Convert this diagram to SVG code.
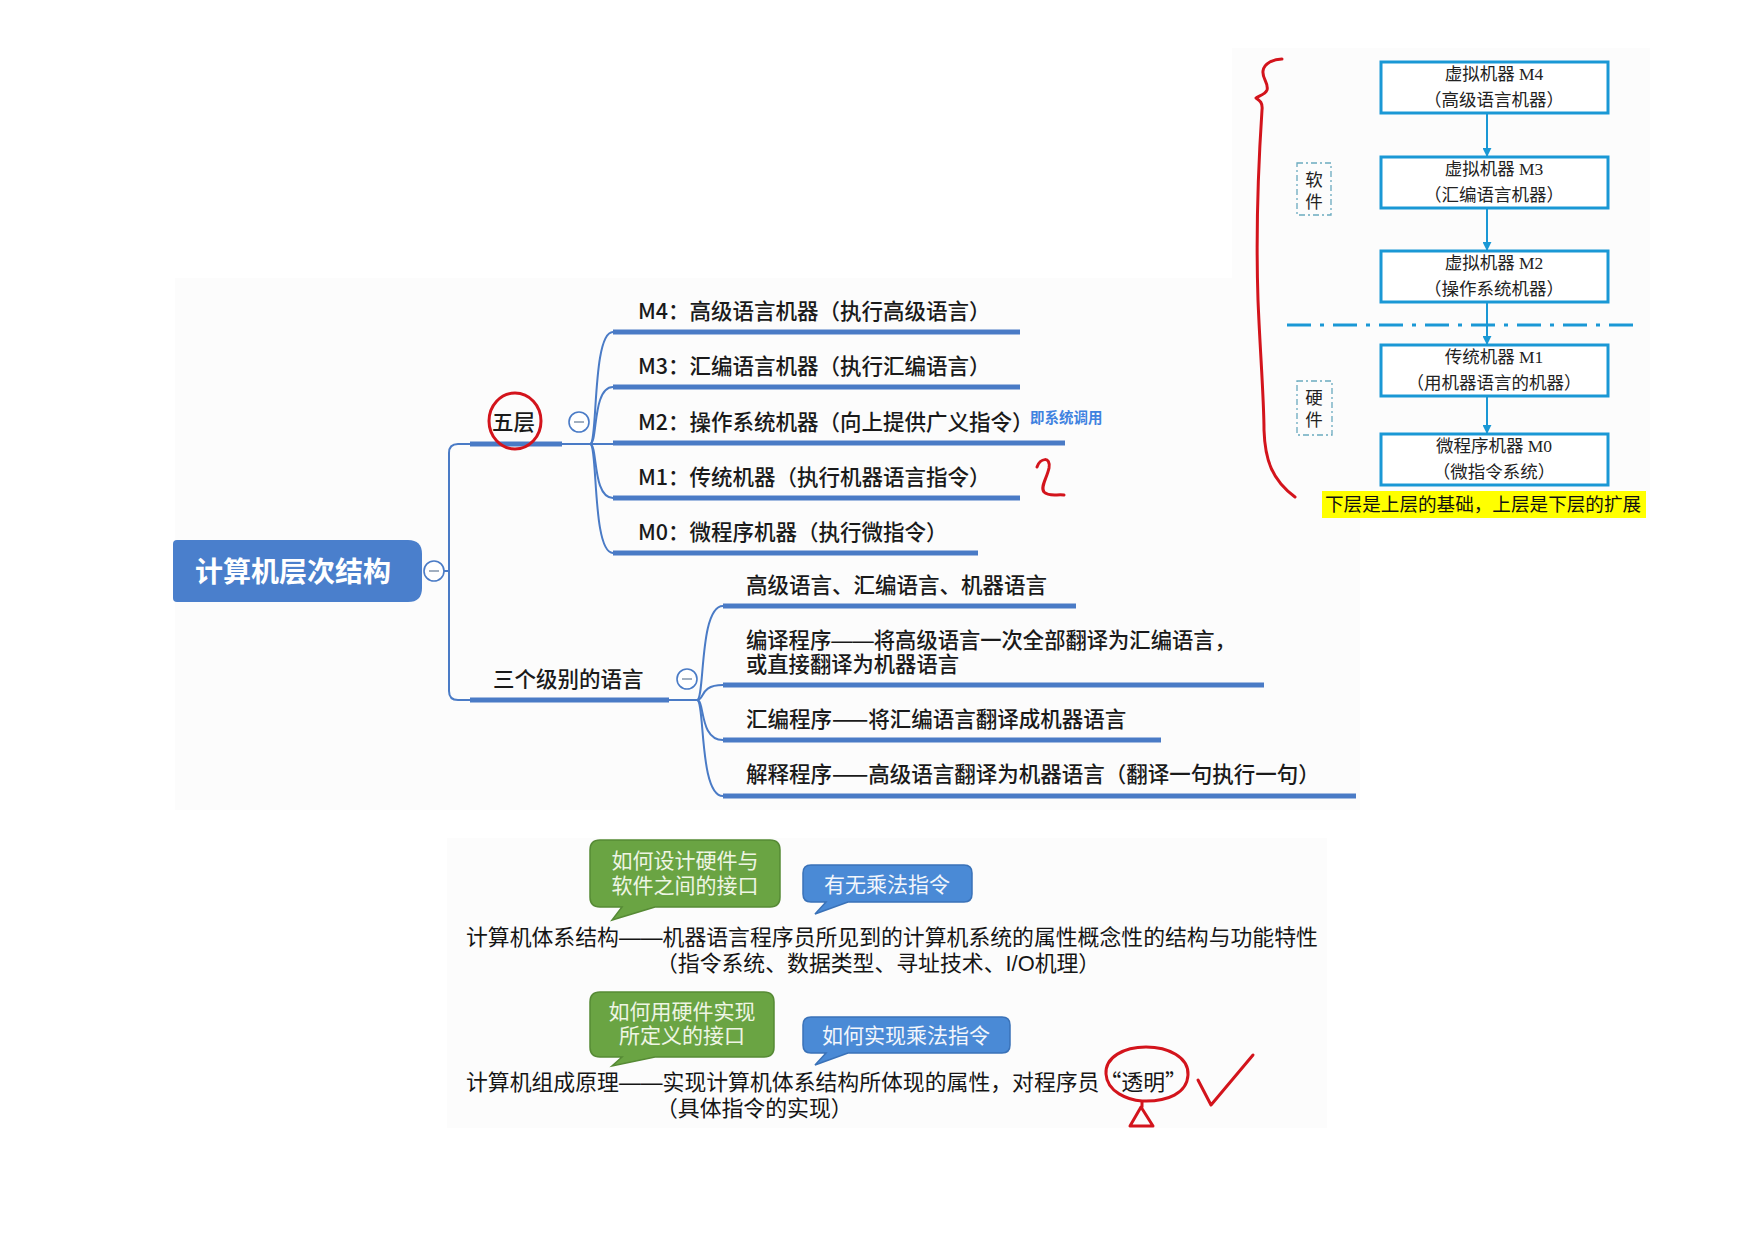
<svg xmlns="http://www.w3.org/2000/svg" width="1754" height="1241" viewBox="0 0 1754 1241">
<style>
.mm{font-family:"Noto Sans CJK SC","Noto Sans",sans-serif;font-weight:500;fill:#1a1a1a;font-size:21.5px}
.mm2{font-family:"Liberation Sans","Noto Sans CJK SC",sans-serif;font-weight:500;fill:#1a1a1a;font-size:21.3px}
.thick{stroke:#4a7bc6;stroke-width:5;fill:none}
.thin{stroke:#4a7bc6;stroke-width:2;fill:none}
.fold{fill:#fff;stroke:#4a7bc6;stroke-width:1.6}
.minus{stroke:#8a9bb0;stroke-width:1.6}
.box{fill:#fff;stroke:#1a98d5;stroke-width:3}
.bt{font-family:"Liberation Serif","Noto Sans CJK SC",serif;font-size:17.5px;fill:#222;text-anchor:middle}
.side{fill:none;stroke:#6aaabf;stroke-width:1.3;stroke-dasharray:6 3 2 3}
.red{fill:none;stroke:#d3141c;stroke-width:3;stroke-linecap:round;stroke-linejoin:round}
.para{font-family:"Liberation Sans","Noto Sans CJK SC",sans-serif;font-size:21.85px;fill:#151515}
.cjkq{font-family:"Noto Sans CJK SC",sans-serif}
.bub{font-family:"Liberation Sans","Noto Sans CJK SC",sans-serif;font-size:21px;text-anchor:middle}
.gb{fill:#6aa443;stroke:#568a35;stroke-width:1.5}
.bb{fill:#4a8ad6;stroke:#3a72b8;stroke-width:1.5}
</style>
<defs>
<marker id="ah" viewBox="0 0 10 10" refX="9" refY="5" markerWidth="9" markerHeight="9" markerUnits="userSpaceOnUse" orient="auto">
<path d="M0,0 L10,5 L0,10 Z" fill="#1a98d5"/>
</marker>
</defs>
<rect width="1754" height="1241" fill="#ffffff"/>
<rect x="175" y="278" width="1185" height="532" fill="#fcfcfc"/>
<rect x="1232" y="48" width="418" height="472" fill="#fcfcfc"/>
<rect x="447" y="838" width="880" height="290" fill="#fcfcfc"/>

<g id="connectors">
<path class="thin" d="M444,571 H449"/>
<path class="thin" d="M470,444 H458 Q449,444 449,453 V691 Q449,700 458,700 H470"/>
<path class="thin" d="M562,444 H590"/>
<path class="thin" d="M590,444 C598,444 592,332 613,332"/>
<path class="thin" d="M590,444 C598,444 592,387 613,387"/>
<path class="thin" d="M590,444 H613"/>
<path class="thin" d="M590,444 C598,444 592,498 613,498"/>
<path class="thin" d="M590,444 C598,444 592,553 613,553"/>
<path class="thin" d="M669,700 H697"/>
<path class="thin" d="M697,700 C705,700 699,606 723,606"/>
<path class="thin" d="M697,700 C705,700 699,685 723,685"/>
<path class="thin" d="M697,700 C705,700 699,740 723,740"/>
<path class="thin" d="M697,700 C705,700 699,796 723,796"/>
<line x1="1487" y1="114" x2="1487" y2="156" stroke="#1a98d5" stroke-width="2" marker-end="url(#ah)"/>
<line x1="1487" y1="209" x2="1487" y2="250" stroke="#1a98d5" stroke-width="2" marker-end="url(#ah)"/>
<line x1="1487" y1="303" x2="1487" y2="344" stroke="#1a98d5" stroke-width="2" marker-end="url(#ah)"/>
<line x1="1487" y1="397" x2="1487" y2="433" stroke="#1a98d5" stroke-width="2" marker-end="url(#ah)"/>
</g>

<g id="root">
<path d="M177,540 H408 Q422,540 422,554 V588 Q422,602 408,602 H177 Q173,602 173,598 V544 Q173,540 177,540 Z" fill="#4a7fcc"/>
<text x="293" y="582" text-anchor="middle" font-family="'Noto Sans CJK SC',sans-serif" font-weight="700" font-size="28" fill="#ffffff">计算机层次结构</text>
<circle class="fold" cx="434" cy="571" r="10"/><line class="minus" x1="429" y1="571" x2="439" y2="571"/>
</g>

<g id="n-wuceng">
<line class="thick" x1="470" y1="444" x2="562" y2="444"/>
<text class="mm" x="492" y="430">五层</text>
<circle class="fold" cx="579" cy="422" r="10"/><line class="minus" x1="574" y1="422" x2="584" y2="422"/>
</g>
<g id="n-m4"><line class="thick" x1="613" y1="332" x2="1020" y2="332"/><text class="mm" x="638" y="319">M4：高级语言机器（执行高级语言）</text></g>
<g id="n-m3"><line class="thick" x1="613" y1="387" x2="1020" y2="387"/><text class="mm" x="638" y="374">M3：汇编语言机器（执行汇编语言）</text></g>
<g id="n-m2"><line class="thick" x1="613" y1="443" x2="1065" y2="443"/><text class="mm" x="638" y="430">M2：操作系统机器（向上提供广义指令）</text>
<text x="1030" y="423" font-family="'Noto Sans CJK SC',sans-serif" font-weight="700" font-size="14.5" fill="#3f82e0">即系统调用</text></g>
<g id="n-m1"><line class="thick" x1="613" y1="498" x2="1020" y2="498"/><text class="mm" x="638" y="485">M1：传统机器（执行机器语言指令）</text></g>
<g id="n-m0"><line class="thick" x1="613" y1="553" x2="978" y2="553"/><text class="mm" x="638" y="540">M0：微程序机器（执行微指令）</text></g>

<g id="n-lang">
<line class="thick" x1="470" y1="700" x2="669" y2="700"/>
<text class="mm" x="493" y="687">三个级别的语言</text>
<circle class="fold" cx="687" cy="679" r="10"/><line class="minus" x1="682" y1="679" x2="692" y2="679"/>
</g>
<g id="n-l1"><line class="thick" x1="723" y1="606" x2="1076" y2="606"/><text class="mm" x="746" y="593">高级语言、汇编语言、机器语言</text></g>
<g id="n-l2"><line class="thick" x1="723" y1="685" x2="1264" y2="685"/><text class="mm2" x="746" y="648">编译程序——将高级语言一次全部翻译为汇编语言，</text><text class="mm2" x="746" y="672">或直接翻译为机器语言</text></g>
<g id="n-l3"><line class="thick" x1="723" y1="740" x2="1161" y2="740"/><text class="mm" x="746" y="727">汇编程序——将汇编语言翻译成机器语言</text></g>
<g id="n-l4"><line class="thick" x1="723" y1="796" x2="1356" y2="796"/><text class="mm" x="746" y="782">解释程序——高级语言翻译为机器语言（翻译一句执行一句）</text></g>

<!-- right diagram -->
<g id="box-m4"><rect class="box" x="1381" y="62" width="227" height="51"/><text class="bt" x="1494" y="80">虚拟机器 M4</text><text class="bt" x="1494" y="106">（高级语言机器）</text></g>
<g id="box-m3"><rect class="box" x="1381" y="157" width="227" height="51"/><text class="bt" x="1494" y="175">虚拟机器 M3</text><text class="bt" x="1494" y="201">（汇编语言机器）</text></g>
<g id="box-m2"><rect class="box" x="1381" y="251" width="227" height="51"/><text class="bt" x="1494" y="269">虚拟机器 M2</text><text class="bt" x="1494" y="295">（操作系统机器）</text></g>
<g id="box-m1"><rect class="box" x="1381" y="345" width="227" height="51"/><text class="bt" x="1494" y="363">传统机器 M1</text><text class="bt" x="1494" y="389">（用机器语言的机器）</text></g>
<g id="box-m0"><rect class="box" x="1381" y="434" width="227" height="51"/><text class="bt" x="1494" y="452">微程序机器 M0</text><text class="bt" x="1494" y="478">（微指令系统）</text></g>
<line x1="1287" y1="325" x2="1642" y2="325" stroke="#1a98d5" stroke-width="3" stroke-dasharray="24 9 4 9"/>
<g id="soft"><rect class="side" x="1297" y="163" width="34" height="52"/><text class="bt" x="1314" y="186" font-size="17">软</text><text class="bt" x="1314" y="208" font-size="17">件</text></g>
<g id="hard"><rect class="side" x="1297" y="381" width="35" height="54"/><text class="bt" x="1314" y="404" font-size="17">硬</text><text class="bt" x="1314" y="426" font-size="17">件</text></g>
<g id="note">
<rect x="1322" y="491" width="324" height="27" fill="#ffff00"/>
<text x="1325" y="511" font-family="'Noto Sans CJK SC',sans-serif" font-size="18.6" fill="#111">下层是上层的基础，上层是下层的扩展</text>
</g>

<!-- bottom -->
<g id="bubble-g1">
<path class="gb" d="M600,840 H770 Q780,840 780,850 V897 Q780,907 770,907 H655 L612,920 L622,907 H600 Q590,907 590,897 V850 Q590,840 600,840 Z"/>
<text class="bub" x="685" y="868" fill="#eef5e4">如何设计硬件与</text>
<text class="bub" x="685" y="893" fill="#eef5e4">软件之间的接口</text>
</g>
<g id="bubble-b1">
<path class="bb" d="M811,865 H964 Q972,865 972,873 V894 Q972,902 964,902 H848 L815,914 L826,902 H811 Q803,902 803,894 V873 Q803,865 811,865 Z"/>
<text class="bub" x="887" y="892" fill="#f2f6fc">有无乘法指令</text>
</g>
<g id="para1">
<text class="para" x="466" y="945">计算机体系结构——机器语言程序员所见到的计算机系统的属性概念性的结构与功能特性</text>
<text class="para" x="656" y="971">（指令系统、数据类型、寻址技术、I/O机理）</text>
</g>
<g id="bubble-g2">
<path class="gb" d="M600,992 H764 Q774,992 774,1002 V1047 Q774,1057 764,1057 H655 L612,1066 L622,1057 H600 Q590,1057 590,1047 V1002 Q590,992 600,992 Z"/>
<text class="bub" x="682" y="1019" fill="#eef5e4">如何用硬件实现</text>
<text class="bub" x="682" y="1043" fill="#eef5e4">所定义的接口</text>
</g>
<g id="bubble-b2">
<path class="bb" d="M811,1017 H1002 Q1010,1017 1010,1025 V1045 Q1010,1053 1002,1053 H848 L815,1065 L826,1053 H811 Q803,1053 803,1045 V1025 Q803,1017 811,1017 Z"/>
<text class="bub" x="906" y="1043" fill="#f2f6fc">如何实现乘法指令</text>
</g>
<g id="para2">
<text class="para" x="466" y="1090">计算机组成原理——实现计算机体系结构所体现的属性，对程序员<tspan class="cjkq">“</tspan>透明<tspan class="cjkq">”</tspan></text>
<text class="para" x="656" y="1116">（具体指令的实现）</text>
</g>

<!-- red annotations -->
<g id="annotations">
<ellipse class="red" cx="515" cy="421" rx="26" ry="28"/>
<path class="red" d="M1037,467 C1040,458 1051,456 1049,468 C1047,478 1040,487 1044,492 C1049,497 1057,494 1064,495"/>
<path class="red" d="M1282,59 C1274,59 1264,63 1263,71 C1262,79 1269,83 1267,90 C1265,95 1258,96 1256,98 C1259,100 1263,102 1262,110 C1258,170 1256,240 1258,300 C1260,350 1264,400 1264,430 C1265,460 1272,480 1295,497"/>
<path class="red" d="M1142,1101 C1128,1100 1107,1092 1106,1074 C1105,1057 1124,1047 1146,1047 C1168,1047 1189,1057 1188,1075 C1187,1093 1168,1102 1142,1101"/>
<path class="red" d="M1142,1102 V1107 M1141,1107 L1130,1126 H1153 Z"/>
<path class="red" d="M1198,1080 L1211,1105 L1253,1055"/>
</g>
</svg>
